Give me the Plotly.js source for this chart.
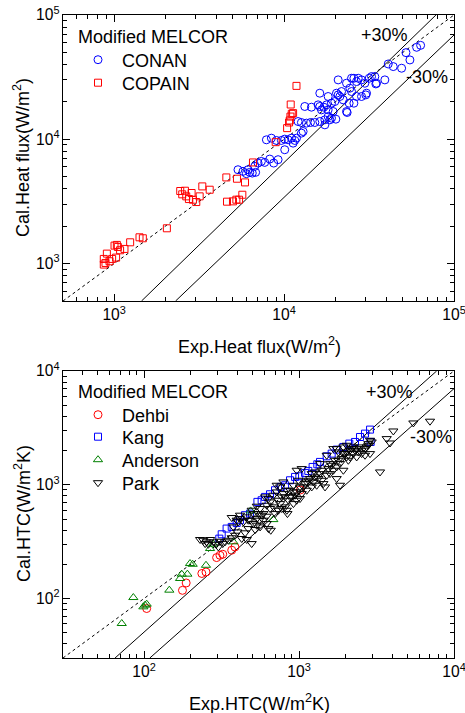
<!DOCTYPE html>
<html>
<head>
<meta charset="utf-8">
<script src="https://cdn.plot.ly/plotly-3.0.1.min.js"></script>
<style>html,body{margin:0;padding:0;background:#fff;}#chart{width:465px;height:713px;}</style>
</head>
<body>
<div id="chart"></div>
<script>
// ---------- Top panel: heat flux ----------
const conanX = [5355,5729,6132,6280,6718,7030,7350,7690,8236,8690,9220,
  7870,8420,9010,9640,10090,10560,11050,11560,10090,11300,11830,12650,12940,
  12090,12650,13540,14300,15170,16230,17380,18170,19010,20170,17380,
  13240,14490,15860,16230,16600,17140,17770,18170,18170,18590,19010,19450,19890,20340,20810,21290,21780,22280,23300,24150,24940,16230,
  20810,23300,24940,25750,26690,27310,28560,29880,30570,31700,32710,34210,35000,39180,25750,26690,28560,30270,24380,23510,
  41020,43900,49170,52160,55030,60270,63610,34670,
  6500,6800,5996];
const conanY = [5690,5520,5690,5420,6055,6437,6637,6516,6932,6437,6855,
  9904,10210,9790,9790,10030,9904,10210,9790,8240,9310,10210,11210,11550,
  13900,13650,13490,13650,13650,13900,14340,15250,14790,14520,13070,
  18370,18130,18920,23490,17250,18130,18920,17250,22090,14340,19520,16730,20130,23490,22760,22090,24220,20760,16730,19520,24220,18370,
  30060,28250,30980,30980,29130,30980,30060,28250,23490,30980,31950,31950,28250,30060,19520,22090,22090,22760,25760,16430,
  40360,38450,37310,49800,43500,54970,57000,27900,
  5347,5420,5290];
const copainX = [869,889,906,1005,1037,973,1027,1084,1150,1242,1410,1475,869,939,1051,2043,
  2448,2516,2610,2656,2754,2856,2909,3043,3186,3302,3650,4573,4615,5003,5238,5281,5433,5680,5890,6561,
  8925,10420,10800,10900,11100,11300,10940,11830,10700];
const copainY = [1090,1012,1203,1395,1413,1090,1117,1280,1312,1483,1627,1598,982,1044,1361,1923,
  3837,3607,3856,3475,3305,3697,3266,3127,3475,4178,3929,4934,3148,3167,3266,4817,3266,3580,4500,6513,
  9480,12300,14170,15240,16030,16230,19050,26900,13650];
// reference lines (top): 1:1 diagonal, +30% and -30% bands
const topDiagX = [500, 100000];
const topDiagY = [500, 100000];
const topPlusX = [1449, 78300];
const topPlusY = [500, 100000];
const topMinusX = [2299, 100000];
const topMinusY = [500, 69000];

// ---------- Bottom panel: HTC ----------
const dehbiX = [104,177,187,236,251,294,309,322,368,386,1020];
const dehbiY = [81.7,118,137,166,171,229,240,245,266,284,900];
const kangX = [306,317,341,368,396,416,448,483,539,574,604,650,700,762,813,875,943,1005,1093,1148,1224,1312,1366,1508,1624,1749,1931,2111,2297,2475,2666,2873,2900];
const kangY = [336,367,412,426,462,488,540,558,707,731,782,825,895,958,990,1095,1172,1188,1271,1323,1434,1514,1588,1779,1878,2037,2149,2300,2378,2630,2815,3054,2378];
const andersonX = [71.8,85.3,99,101.5,104,145.6,170.7,175,190.4,198,206,251,266.7,280,377,487,683];
const andersonY = [60.3,102,84.5,87.4,89.2,118.4,150,163.7,163.7,203,200,196,275,300,315,589,494];
const parkX = [368,396,416,438,460,483,508,534,561,589,619,635,604,635,651,684,718,736,755,774,793,813,834,855,876,898,920,943,966,
  1015,1041,1067,1094,1121,1149,1178,1208,1238,1269,1300,1333,1366,1401,1436,1472,1509,1547,1585,1625,1666,1708,1750,1794,1839,1885,
  1932,1981,2030,2081,2133,2187,2242,2298,2355,2475,2537,2666,2801,2871,2943,1839,1750,1041,966,755,718,793,834,920,991,1208,1366,
  1509,1666,1932,2030,
  230,241,248,254,260,267,280,292,302,309,322,333,350,368,387,400,427,449,471,495,460,521,534,555,589,619,657,377,416,495,534,561,619,651,701,774,842,
  3332,3680,3866,4060,5465,7000,
  1750,1932,2133,2355,2537,2733,2801,2871,2666,
  920,1015,1121,1269,1401,1585,1794,2030,2242,2415,684,736,813,876,966,508,575,406,471,547];
const parkY = [515,488,504,472,522,488,456,504,426,488,456,412,782,756,707,809,865,731,683,782,836,639,597,731,895,782,683,809,731,
  756,836,957,1024,895,1095,1133,957,1059,1172,990,1133,1253,1095,1024,957,1212,1387,1253,1484,1341,1642,1435,1943,1535,1698,
  1341,1879,1943,1642,1756,2079,1879,2010,1756,2150,1879,2079,2224,1879,2379,990,1133,1387,1341,957,990,1059,895,990,1095,1253,1535,
  1817,2079,2150,2224,
  330,325,304,315,300,330,315,300,284,319,304,315,325,342,360,385,337,378,412,304,330,404,441,488,558,529,398,426,540,597,648,618,661,618,558,618,558,
  1296,2545,2330,2970,3494,3620,
  2079,1879,2010,2079,2010,2150,2300,2460,1817,
  865,957,1059,1296,1341,1535,1642,1756,2150,1943,639,597,782,782,865,558,540,472,488,558];
const botDiagX = [30, 10000];
const botDiagY = [30, 10000];
const botPlusX = [65, 7727];
const botPlusY = [30, 10000];
const botMinusX = [109, 10000];
const botMinusY = [30, 7000];

const FONT = 'Arial, "Liberation Sans", sans-serif';
const W = 465, H = 713;

function refLine(x, y, xa, ya, dash) {
  return {x: x, y: y, xaxis: xa, yaxis: ya, mode: 'lines', showlegend: false, hoverinfo: 'skip',
    line: {color: 'black', width: 1, dash: dash}};
}
function pts(x, y, xa, ya, name, sym, color, size, legend) {
  return {x: x, y: y, xaxis: xa, yaxis: ya, mode: 'markers', name: name, legend: legend,
    marker: {symbol: sym, size: size, color: color, line: {color: color, width: 1}}};
}

const traces = [
  refLine(topDiagX, topDiagY, 'x', 'y', 'dot'),
  refLine(topPlusX, topPlusY, 'x', 'y', 'solid'),
  refLine(topMinusX, topMinusY, 'x', 'y', 'solid'),
  pts(conanX, conanY, 'x', 'y', 'CONAN', 'circle-open', '#0000ff', 8, 'legend'),
  pts(copainX, copainY, 'x', 'y', 'COPAIN', 'square-open', '#ff0000', 7, 'legend2'),
  refLine(botDiagX, botDiagY, 'x2', 'y2', 'dot'),
  refLine(botPlusX, botPlusY, 'x2', 'y2', 'solid'),
  refLine(botMinusX, botMinusY, 'x2', 'y2', 'solid'),
  pts(dehbiX, dehbiY, 'x2', 'y2', 'Dehbi', 'circle-open', '#ff0000', 8, 'legend3'),
  pts(kangX, kangY, 'x2', 'y2', 'Kang', 'square-open', '#0000ff', 7, 'legend4'),
  pts(andersonX, andersonY, 'x2', 'y2', 'Anderson', 'triangle-up-open', '#008000', 8, 'legend5'),
  pts(parkX, parkY, 'x2', 'y2', 'Park', 'triangle-down-open', '#000000', 8, 'legend6')
];

function axis(range, domain, anchor) {
  return {
    type: 'log', range: range, domain: domain, anchor: anchor,
    showline: true, linecolor: 'black', linewidth: 1, mirror: 'ticks',
    ticks: 'inside', ticklen: 7, tickwidth: 1, tickcolor: 'black',
    dtick: 1, exponentformat: 'power', showgrid: false, zeroline: false,
    ticklabeloverflow: 'allow',
    tickfont: {family: FONT, size: 12.5, color: 'black'},
    minor: {ticks: 'inside', ticklen: 4, tickwidth: 1, tickcolor: 'black', dtick: 'D1', showgrid: false}
  };
}

const xd = [63 / W, 454 / W];
const TF = {family: FONT, size: 18, color: 'black'};
function note(text, px, py, angle, xanchor) {
  return {text: text, xref: 'paper', yref: 'paper', x: px / W, y: 1 - py / H,
    xanchor: xanchor || 'center', yanchor: 'middle', showarrow: false, textangle: angle || 0, font: TF};
}
function leg(py) {
  return {x: 74 / W, y: 1 - py / H, xanchor: 'left', yanchor: 'middle', bgcolor: 'rgba(0,0,0,0)',
    itemwidth: 38, font: TF};
}

const layout = {
  width: W, height: H,
  margin: {l: 0, r: 0, t: 0, b: 0},
  paper_bgcolor: 'white', plot_bgcolor: 'white',
  font: {family: FONT, color: 'black'},
  xaxis: axis([Math.log10(500), 5], xd, 'y'),
  yaxis: axis([Math.log10(500), 5], [1 - 301 / H, 1 - 15 / H], 'x'),
  xaxis2: axis([Math.log10(30), 4], xd, 'y2'),
  yaxis2: axis([Math.log10(30), 4], [1 - 658 / H, 1 - 371 / H], 'x2'),
  legend: leg(60), legend2: leg(83),
  legend3: leg(415), legend4: leg(437), legend5: leg(460), legend6: leg(483),
  annotations: [
    note('Modified MELCOR', 76, 37, 0, 'left'),
    note('Modified MELCOR', 76, 392, 0, 'left'),
    note('+30%', 384, 35), note('-30%', 427, 77),
    note('+30%', 389, 392), note('-30%', 431, 437),
    note('Exp.Heat flux(W/m<sup>2</sup>)', 259, 345),
    note('Cal.Heat flux(W/m<sup>2</sup>)', 22, 158, -90),
    note('Exp.HTC(W/m<sup>2</sup>K)', 259, 702),
    note('Cal.HTC(W/m<sup>2</sup>K)', 22, 514, -90)
  ]
};

Plotly.newPlot('chart', traces, layout, {displayModeBar: false, staticPlot: true});
</script>
</body>
</html>
